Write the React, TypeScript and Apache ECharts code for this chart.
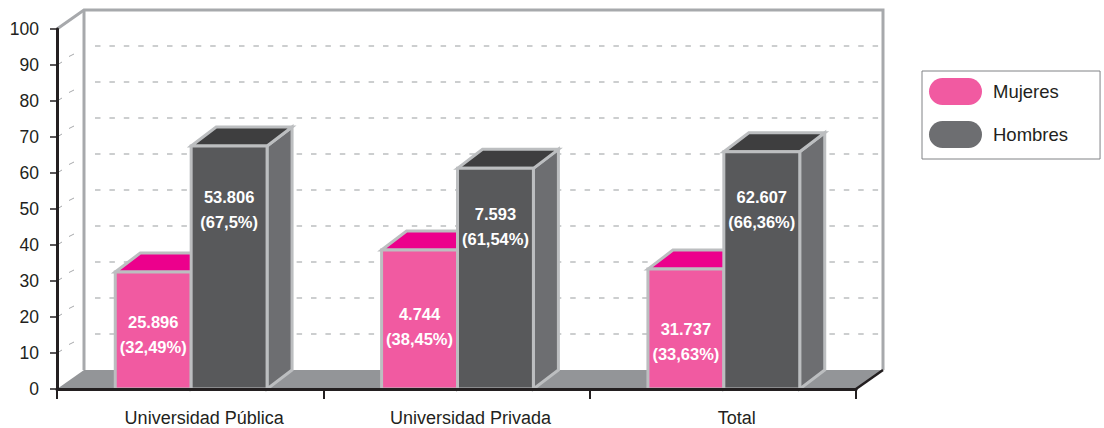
import React, { useEffect, useRef } from "react";
import * as echarts from "echarts";

const categories = ["Universidad Pública", "Universidad Privada", "Total"];
const yTicks = [10, 20, 30, 40, 50, 60, 70, 80, 90];
const mujeresValues = [32.5, 38.6, 33.3];
const hombresValues = [67.5, 61.3, 65.9];
const mujeresLabels = ["25.896\n(32,49%)", "4.744\n(38,45%)", "31.737\n(33,63%)"];
const hombresLabels = ["53.806\n(67,5%)", "7.593\n(61,54%)", "62.607\n(66,36%)"];
// level on the value axis at which each label block sits
const mujeresLabelLevels = [15, 17, 12.8];
const hombresLabelLevels = [49.7, 45, 49.7];

const FONT = '"Liberation Sans", Arial, sans-serif';
const DX = 27;
const DY = 19;
const BAR_DX = 25;
const EDGE = "#BCBEC0";
const WALL = "#A7A9AC";

const pill = "path://M13.5 0H39.5A13.5 13.5 0 0 1 39.5 27H13.5A13.5 13.5 0 0 1 13.5 0Z";

function barSeries(
  name: string,
  values: number[],
  labels: string[],
  levels: number[],
  side: -1 | 1,
  front: string,
  top: string,
  wall: string
) {
  return {
    type: "custom",
    name,
    z: 4,
    itemStyle: { color: name === "Hombres" ? "#6D6E71" : front },
    encode: { x: 0, y: 1 },
    data: values.map((v, i) => [i, v]),
    renderItem: (params: any, api: any) => {
      const idx = api.value(0);
      const center = api.coord([idx, 0]);
      const topPt = api.coord([idx, api.value(1)]);
      const w = api.size([1, 0])[0] * 0.285;
      const x0 = (side < 0 ? center[0] - w : center[0]) + 1;
      const x1 = x0 + w;
      const y0 = topPt[1];
      const y1 = center[1];
      const stroke = { stroke: EDGE, lineWidth: 3, lineJoin: "miter" };
      const labelY = api.coord([idx, levels[params.dataIndex]])[1];
      return {
        type: "group",
        children: [
          {
            type: "polygon",
            shape: { points: [[x1, y0], [x1 + BAR_DX, y0 - DY], [x1 + BAR_DX, y1 - DY], [x1, y1]] },
            style: { fill: wall, ...stroke },
          },
          {
            type: "polygon",
            shape: { points: [[x0, y0], [x0 + BAR_DX, y0 - DY], [x1 + BAR_DX, y0 - DY], [x1, y0]] },
            style: { fill: top, ...stroke },
          },
          {
            type: "rect",
            shape: { x: x0, y: y0, width: w, height: y1 - y0 },
            style: { fill: front, ...stroke },
          },
          {
            type: "text",
            x: (x0 + x1) / 2,
            y: labelY - 1,
            style: {
              text: labels[params.dataIndex],
              fill: "#FFFFFF",
              font: `bold 16.5px ${FONT}`,
              lineHeight: 25,
              align: "center",
              verticalAlign: "middle",
            },
          },
        ],
      };
    },
  };
}

export default function App() {
  const ref = useRef<HTMLDivElement>(null);
  useEffect(() => {
    document.body.style.margin = "0";
    const chart = echarts.init(ref.current!, undefined, { renderer: "svg" });
    chart.setOption({
      animation: false,
      backgroundColor: "#FFFFFF",
      textStyle: { fontFamily: FONT },
      grid: { left: 57, top: 29, width: 799, height: 360, containLabel: false },
      legend: {
        left: 922,
        top: 71,
        orient: "vertical",
        data: ["Mujeres", "Hombres"],
        icon: pill,
        itemWidth: 53,
        itemHeight: 27,
        itemGap: 16,
        padding: [7, 32, 11, 7],
        borderColor: "#808285",
        borderWidth: 1,
        backgroundColor: "#FFFFFF",
        textStyle: { fontFamily: FONT, fontSize: 18.5, color: "#231F20", padding: [3, 0, 0, 6] },
        selectedMode: false,
      },
      xAxis: {
        type: "category",
        data: categories,
        z: 10,
        axisLine: { lineStyle: { color: "#231F20", width: 3 } },
        axisTick: { show: true, length: 10, lineStyle: { color: "#231F20", width: 2 } },
        axisLabel: { fontFamily: FONT, fontSize: 18, color: "#231F20", margin: 20, padding: [0, 0, 0, 28] },
        splitLine: { show: false },
      },
      yAxis: {
        type: "value",
        min: 0,
        max: 100,
        interval: 10,
        z: 10,
        axisLine: { show: true, lineStyle: { color: "#231F20", width: 3 } },
        axisTick: { show: true, length: 7, lineStyle: { color: "#231F20", width: 1.5 } },
        axisLabel: { fontFamily: FONT, fontSize: 17.5, color: "#231F20", margin: 18 },
        splitLine: { show: false },
      },
      series: [
        {
          type: "custom",
          name: "Fondo",
          z: 1,
          silent: true,
          encode: { x: 0, y: 1 },
          data: [[0, 0]],
          renderItem: (params: any, api: any) => {
            const c = params.coordSys;
            const L = c.x;
            const R = c.x + c.width;
            const T = c.y;
            const B = c.y + c.height;
            return {
              type: "group",
              children: [
                {
                  type: "polygon",
                  shape: { points: [[L, B], [L + DX, B - DY], [R + DX, B - DY], [R, B]] },
                  style: { fill: "#939598" },
                },
                {
                  type: "polyline",
                  shape: { points: [[L, T], [L + DX, T - DY], [R + DX, T - DY], [R + DX, B - DY]] },
                  style: { fill: "none", stroke: WALL, lineWidth: 3 },
                },
                {
                  type: "line",
                  shape: { x1: L + DX, y1: T - DY, x2: L + DX, y2: B - DY },
                  style: { stroke: WALL, lineWidth: 3 },
                },
                {
                  type: "line",
                  shape: { x1: R, y1: B, x2: R + DX, y2: B - DY },
                  style: { stroke: "#231F20", lineWidth: 2.5 },
                },
              ],
            };
          },
        },
        {
          type: "custom",
          name: "Rejilla",
          z: 2,
          silent: true,
          encode: { x: 0, y: 1 },
          data: yTicks.map((t) => [0, t]),
          renderItem: (params: any, api: any) => {
            const c = params.coordSys;
            const y = api.coord([0, api.value(1)])[1];
            return {
              type: "group",
              children: [
                {
                  type: "line",
                  shape: { x1: c.x + 38, y1: y - DY, x2: c.x + c.width + DX - 4, y2: y - DY },
                  style: { stroke: "#BCBEC0", lineWidth: 1.5, lineDash: [5.5, 8.9] },
                },
                {
                  type: "line",
                  shape: { x1: c.x + 12, y1: y - 8.5, x2: c.x + 17, y2: y - 11 },
                  style: { stroke: "#A7A9AC", lineWidth: 1 },
                },
                {
                  type: "line",
                  shape: { x1: c.x, y1: y, x2: c.x + 5, y2: y - 3 },
                  style: { stroke: "#A7A9AC", lineWidth: 1 },
                },
              ],
            };
          },
        },
        barSeries("Mujeres", mujeresValues, mujeresLabels, mujeresLabelLevels, -1, "#F15AA1", "#EC008C", "#EC008C"),
        barSeries("Hombres", hombresValues, hombresLabels, hombresLabelLevels, 1, "#58595B", "#3E3E3F", "#6D6E71"),
      ],
    });
    return () => chart.dispose();
  }, []);
  return <div ref={ref} style={{ width: 1104, height: 428 }} />;
}
